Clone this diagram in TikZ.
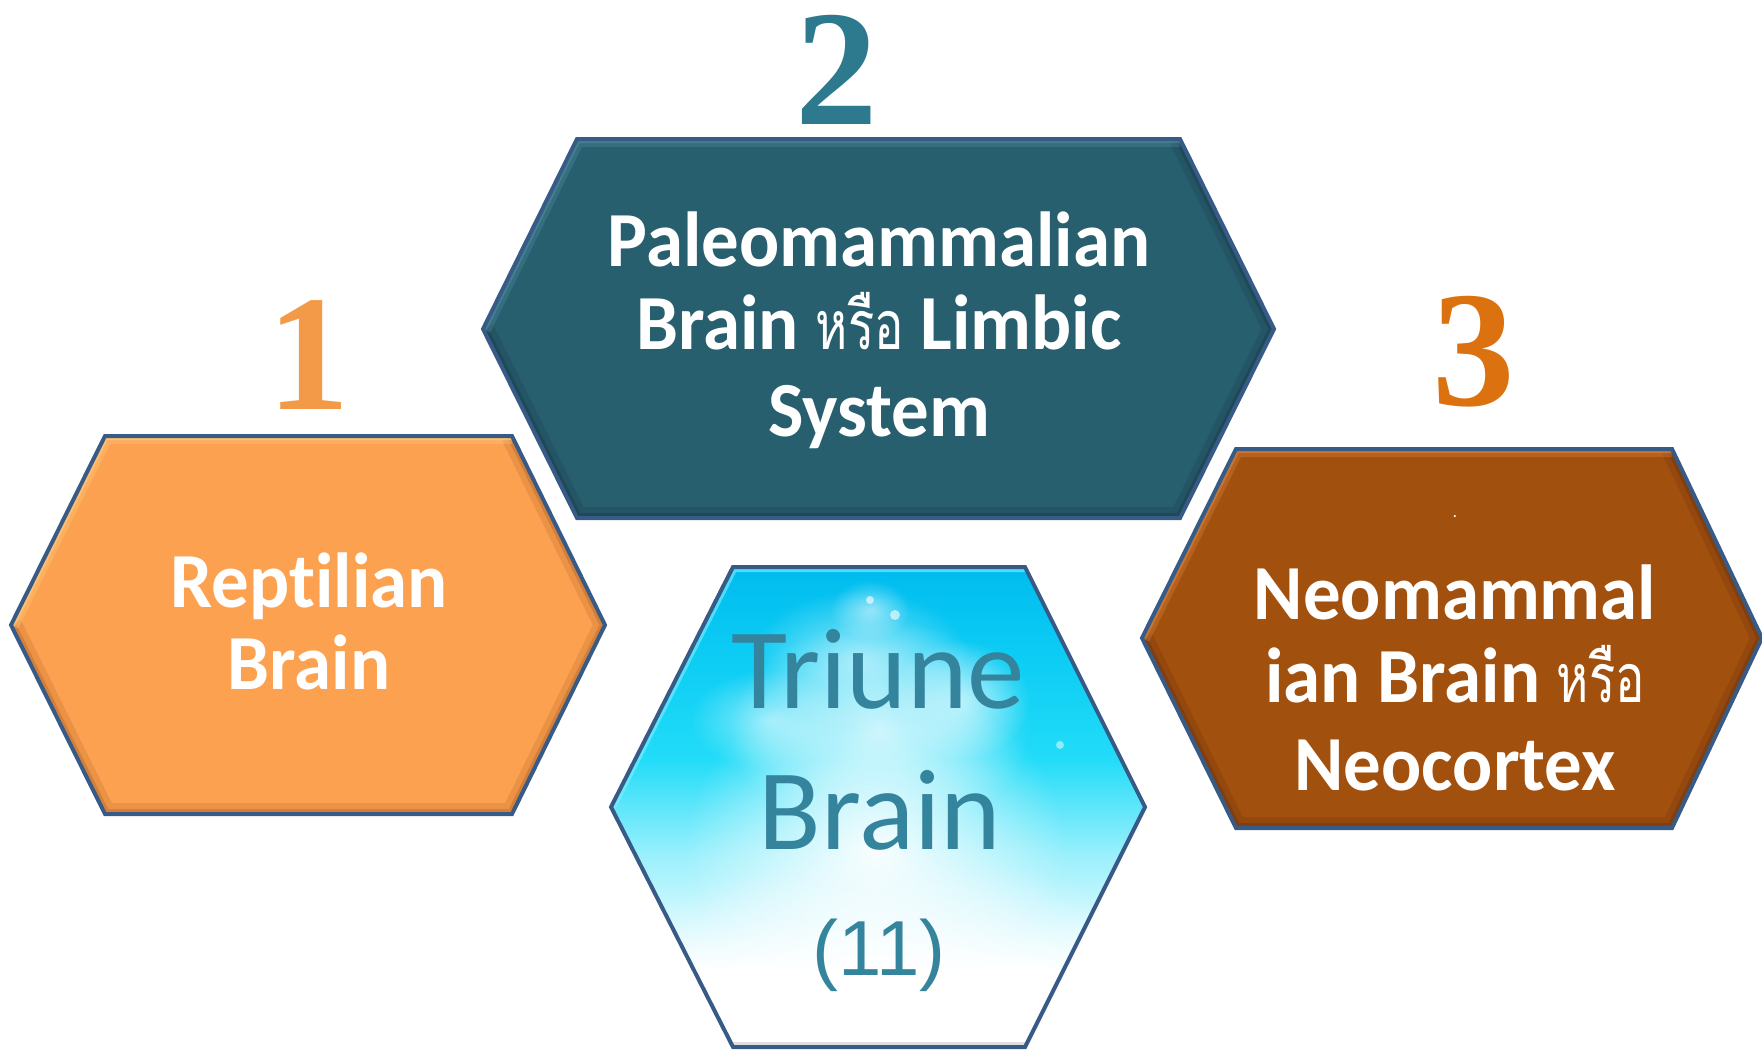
\documentclass[tikz,border=0pt]{standalone}
\usepackage{fontspec}
\setmainfont{Carlito}[Ligatures=CommonOff]
\newfontfamily\cbold{Carlito}[Ligatures=CommonOff, FakeStretch=0.96]
\newfontfamily\thai[Script=Thai, FakeStretch=0.72]{Loma}
\newfontfamily\arialf{Liberation Sans}
\newfontfamily\timesf{Liberation Serif}
\usetikzlibrary{fadings}

\definecolor{orangeF}{HTML}{FCA150}
\definecolor{orangeL}{HTML}{FFCB80}
\definecolor{orangeD}{HTML}{B8692A}
\definecolor{tealF}{HTML}{285F6E}
\definecolor{tealL}{HTML}{4E8A9C}
\definecolor{tealD}{HTML}{1A3B4C}
\definecolor{brownF}{HTML}{A2500E}
\definecolor{brownL}{HTML}{D8843E}
\definecolor{brownD}{HTML}{6B3410}
\definecolor{cyanT}{HTML}{00BCEF}
\definecolor{cyanU}{HTML}{0CCCF4}
\definecolor{cyanM}{HTML}{22DCF8}
\definecolor{cyanW}{HTML}{9AF0FC}
\definecolor{cyanL}{HTML}{7FF0FF}
\definecolor{borderC}{HTML}{375B86}
\definecolor{triText}{HTML}{35849E}
\definecolor{numOne}{HTML}{F39A48}
\definecolor{numTwo}{HTML}{2D7A8F}
\definecolor{numThree}{HTML}{DC720F}

\pgfdeclareverticalshading{triunefill}{100bp}{color(0bp)=(white); color(25bp)=(white); color(33bp)=(white); color(45bp)=(cyanW); color(55bp)=(cyanM); color(66bp)=(cyanU); color(75bp)=(cyanT); color(100bp)=(cyanT)}
\tikzfading[name=softblob, inner color=transparent!0, outer color=transparent!100]

\newcommand\hexpath[1]{(#1-L)--(#1-TL)--(#1-TR)--(#1-R)--(#1-BR)--(#1-BL)--cycle}
\newcommand\hexbevel[3]{%
  \begin{scope}
    \clip \hexpath{#1};
    \draw[line width=22pt, #3, opacity=.25] (#1-TR)--(#1-R)--(#1-BR)--(#1-BL)--(#1-L);
    \draw[line width=10pt, #3, opacity=.45] (#1-TR)--(#1-R)--(#1-BR)--(#1-BL)--(#1-L);
    \draw[line width=16pt, #2, opacity=.35] (#1-L)--(#1-TL)--(#1-TR);
    \draw[line width=8pt, #2, opacity=.6] (#1-L)--(#1-TL)--(#1-TR);
  \end{scope}}

\tikzset{
  hexborder/.style={draw=borderC, line width=4pt, line join=miter},
  wt/.style={text=white, inner sep=0pt, font=\cbold\bfseries\fontsize{78}{85}\selectfont},
  tri/.style={text=triText, inner sep=0pt, font=\fontsize{115}{120}\selectfont},
  num/.style={inner sep=0pt, font=\timesf\bfseries\fontsize{165}{165}\selectfont},
  cloud/.style={fill=white, path fading=softblob}
}
\newcommand\thaiword{{\thai\mdseries\fontsize{68}{85}\selectfont หรือ}}

\begin{document}
\begin{tikzpicture}[x=1pt,y=-1pt]
\useasboundingbox (0,0) rectangle (1762,1052);
\fill[white] (0,0) rectangle (1762,1052);

% orange hexagon
\coordinate (o-L) at (11,625);   \coordinate (o-TL) at (105,436);
\coordinate (o-TR) at (512,436); \coordinate (o-R) at (605,625);
\coordinate (o-BR) at (512,814); \coordinate (o-BL) at (105,814);
% teal hexagon
\coordinate (t-L) at (483,329);   \coordinate (t-TL) at (577,139);
\coordinate (t-TR) at (1180,139); \coordinate (t-R) at (1274,329);
\coordinate (t-BR) at (1180,518); \coordinate (t-BL) at (577,518);
% blue hexagon
\coordinate (b-L) at (611,807);   \coordinate (b-TL) at (733,567);
\coordinate (b-TR) at (1025,567); \coordinate (b-R) at (1145,807);
\coordinate (b-BR) at (1025,1047);\coordinate (b-BL) at (733,1047);
% brown hexagon
\coordinate (r-L) at (1142,638);  \coordinate (r-TL) at (1236,449);
\coordinate (r-TR) at (1672,449); \coordinate (r-R) at (1762,638);
\coordinate (r-BR) at (1672,828); \coordinate (r-BL) at (1236,828);

\fill[orangeF] \hexpath{o};
\hexbevel{o}{orangeL}{orangeD}
\draw[hexborder] \hexpath{o};

\fill[tealF] \hexpath{t};
\hexbevel{t}{tealL}{tealD}
\draw[hexborder] \hexpath{t};

\fill[brownF] \hexpath{r};
\hexbevel{r}{brownL}{brownD}
\draw[hexborder] \hexpath{r};

% blue (Triune) hexagon
\begin{scope}
  \clip \hexpath{b};
  \shade[shading=triunefill] \hexpath{b};
  \fill[cloud, opacity=.95] (875,850) ellipse (190 and 170);
  \fill[cloud, opacity=.7] (880,730) ellipse (150 and 110);
  \fill[cloud, opacity=.55] (860,660) ellipse (110 and 70);
  \fill[cloud, opacity=.6] (960,700) ellipse (70 and 60);
  \fill[cloud, opacity=.5] (770,720) ellipse (80 and 50);
  \fill[cloud, opacity=.5] (870,610) ellipse (40 and 30);
  \fill[cloud] (890,1010) ellipse (300 and 160);
  \fill[white, opacity=.6] (870,600) circle (4);
  \fill[white, opacity=.6] (895,615) circle (5);
  \fill[white, opacity=.5] (1060,745) circle (4);
  \draw[line width=10pt, cyanL, opacity=.6] (b-L)--(b-TL)--(b-TR);
  \draw[line width=10pt, gray, opacity=.25] (b-BR)--(b-BL);
\end{scope}
\draw[hexborder] \hexpath{b};

% numbers
\node[num, anchor=base, text=numOne] (n1) at (309,409) {1};
\node[num, anchor=base, text=numTwo] (n2) at (837,124) {2};
\node[num, anchor=base, text=numThree] (n3) at (1474,405) {3};

% texts
\node[wt, anchor=base] (paleoA) at (879,266) {Paleomammalian};
\node[wt, anchor=base] (paleoB) at (879,349) {Brain \thaiword{} Limbic};
\node[wt, anchor=base] (paleoC) at (879,436) {System};

\node[wt, anchor=base] (reptA) at (309,607) {Reptilian};
\node[wt, anchor=base] (reptB) at (309,689) {Brain};

\node[wt, anchor=base, font=\cbold\bfseries\fontsize{14}{14}\selectfont] (neoDot) at (1455,517) {.};
\node[wt, anchor=base] (neoA) at (1455,619) {Neomammal};
\node[wt, anchor=base] (neoB) at (1455,702) {ian Brain \thaiword};
\node[wt, anchor=base] (neoC) at (1455,790) {Neocortex};

\node[tri, anchor=base] (triA) at (878,708) {Triune};
\node[tri, anchor=base] (triB) at (880,849) {Brain};
\node[anchor=base, inner sep=0pt, text=triText, font=\arialf\fontsize{78}{80}\selectfont] (triC) at (879,975) {(11)};
\end{tikzpicture}
\end{document}
